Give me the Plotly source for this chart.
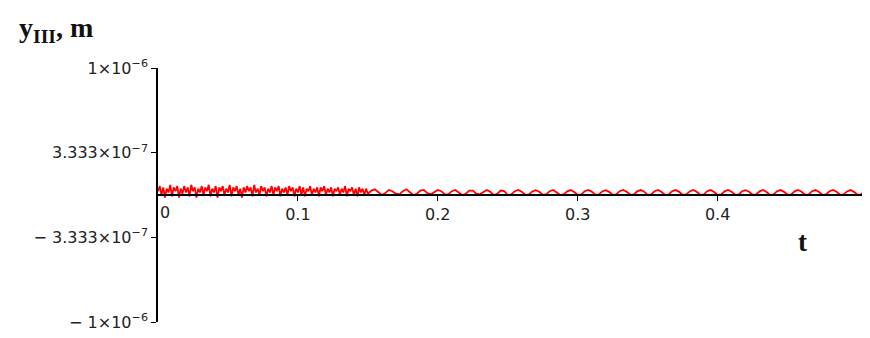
import plotly.graph_objects as go

# Displacement y_III (units of 1e-8 m)
# early, noisy part: sampled every 0.00125 s from t = 0
noisy = [3, 7, 0, 6, -2, 5, 2, 8, -1, 6, 3, 7, -2, 5, 1, 7, 2, 6, -1, 8,
         3, 6, -2, 5, 2, 7, 0, 6, 3, 8, -1, 5, 2, 7, -2, 6, 3, 7, 0, 5,
         2, 8, -1, 6, 3, 7, 0, 5, -2, 6, 2, 7, 3, 6, -1, 8, 2, 5, 0, 7,
         3, 6, -1, 5, 2, 7, 0, 6, 3, 7, -1, 5, 2, 6, 0, 7, 3, 6, -1, 5,
         2, 7, 0, 6, -1, 5, 3, 7, 0, 5, 2, 6, -1, 6, 3, 7, 0, 5, 2, 6,
         -1, 5, 3, 6, 0, 5, 2, 7, -1, 5, 3, 6, 0, 5, -1, 6, 2, 5, 0, 5, 1]
noisy_start = 0.0
noisy_step = 0.00125
# later part: sampled every 0.0025 s from t = 0.15
transition = [1, 3.5, 4.5, 2, 0, 1.5, 4, 3, 1, 0.5, 3, 4.5, 2.5, 0, 1, 3.5, 4, 1.5, 0.5, 2,
              4, 3, 0.5, 0.5, 3, 4, 2, 0, 1, 3.5, 3.5, 1, 0.5, 2.5, 4, 2.5, 0, 1, 3.5, 3]
steady = [0, 0.5, 3, 4, 2.5, 0.3, 0.2, 2.8, 3.8, 2.6, 0.2, 0.4, 3, 4, 2.3,
          0, 0.5, 2.9, 3.9, 2.4, 0.2, 0.3, 3, 4, 2.7, 0.3, 0.2, 2.8, 3.8, 2.5,
          0, 0.4, 3, 4, 2.5, 0.3, 0.2, 2.9, 3.9, 2.6, 0.1, 0.4, 3, 4, 2.4,
          0, 0.5, 3, 3.9, 2.5, 0.2, 0.3, 2.8, 4, 2.6, 0.2, 0.3, 3, 3.9, 2.4,
          0, 0.4, 2.9, 4, 2.5, 0.3, 0.2, 3, 3.8, 2.6, 0.2, 0.4, 2.9, 4, 2.4,
          0, 0.5, 3, 3.9, 2.5, 0.2, 0.3, 2.9, 4, 2.6, 0.2, 0.3, 3, 3.9, 2.3,
          0, 0.4, 3, 4, 2.5, 0.2, 0.3, 2.8, 3.9, 2.5, 0.2, 0.4, 3, 3.8]
late = transition + steady
late_start = 0.15
late_step = 0.0025

x_tickvals = [0.1, 0.2, 0.3, 0.4]
x_ticktext = ["0.1", "0.2", "0.3", "0.4"]
y_tickvals = [1e-6, 3.333e-7, -3.333e-7, -1e-6]
y_ticktext = ["1×10<sup>−6</sup>", "3.333×10<sup>−7</sup>",
              "− 3.333×10<sup>−7</sup>", "− 1×10<sup>−6</sup>"]

fig = go.Figure()
fig.add_trace(go.Scatter(x0=noisy_start, dx=noisy_step, y=[v * 1e-8 for v in noisy],
                         mode="lines", line=dict(color="#ff0000", width=1.8),
                         showlegend=False, hoverinfo="skip"))
fig.add_trace(go.Scatter(x0=late_start, dx=late_step, y=[v * 1e-8 for v in late],
                         mode="lines", line=dict(color="#ff0000", width=1.8),
                         showlegend=False, hoverinfo="skip"))

tickfont = dict(family="DejaVu Sans", size=16, color="#222222")
fig.update_layout(
    width=862, height=330,
    margin=dict(l=150, r=2, t=60, b=16),
    paper_bgcolor="white", plot_bgcolor="white",
    xaxis=dict(range=[0, 0.5075], tickvals=x_tickvals, ticktext=x_ticktext,
               showgrid=False, zeroline=False, showline=True, linecolor="black",
               linewidth=1.5, ticks="outside", ticklen=5, tickcolor="black",
               tickfont=tickfont, anchor="free", position=0.5),
    yaxis=dict(range=[-1e-6, 1e-6], tickvals=y_tickvals, ticktext=y_ticktext,
               showgrid=False, zeroline=False, showline=True, linecolor="black",
               linewidth=1.5, ticks="outside", ticklen=5, tickcolor="black",
               tickfont=tickfont),
    annotations=[
        dict(text="0", x=0, y=0, xref="x", yref="y", xanchor="center", yanchor="top",
             xshift=7, yshift=-6, showarrow=False, font=tickfont),
        dict(text="<b>y<sub>III</sub>, m</b>", x=-0.199, y=1.152, xref="paper", yref="paper",
             xanchor="left", yanchor="middle", showarrow=False,
             font=dict(family="Liberation Serif", size=28, color="#111111")),
        dict(text="<b>t</b>", x=0.461, y=-0.37e-6, xref="x", yref="y",
             xanchor="center", yanchor="middle", showarrow=False,
             font=dict(family="Liberation Serif", size=27, color="#111111")),
    ],
)

fig.write_html("out.html")
